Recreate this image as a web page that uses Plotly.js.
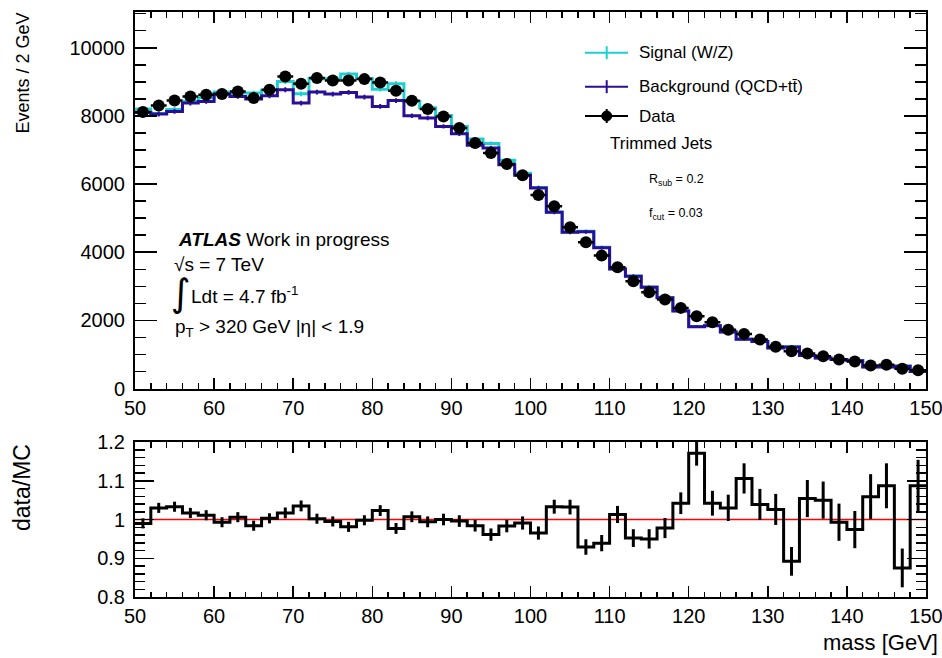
<!DOCTYPE html>
<html><head><meta charset="utf-8">
<script src="https://cdn.plot.ly/plotly-3.0.1.min.js"></script>
<style>html,body{margin:0;padding:0;background:#fff}#chart{width:942px;height:658px}</style>
</head><body><div id="chart"></div>
<script>
// bin centres (2 GeV bins from 50 to 150)
const binCentres = [51,53,55,57,59,61,63,65,67,69,71,73,75,77,79,81,83,85,87,89,
  91,93,95,97,99,101,103,105,107,109,111,113,115,117,119,121,123,125,127,129,
  131,133,135,137,139,141,143,145,147,149];
const binHalfWidth = 1;

const dataEvents = [8114,8308,8455,8572,8622,8642,8720,8525,8768,9160,
  8944,9110,9042,9042,9080,8983,8739,8446,8201,7986,
  7644,7205,6912,6589,6256,5680,5347,4731,4291,3900,
  3558,3147,2824,2610,2366,2121,1945,1725,1603,1437,
  1222,1095,1026,948,850,792,674,694,577,538];

// Signal (W/Z) stacked on background
const signalTotal = [8200,8070,8190,8430,8530,8700,8670,8670,8750,9010,
  8650,9100,9090,9230,9100,8785,8945,8420,8240,8010,
  7690,7320,7190,6700,6320,5900,5180,4595,4612,4142,
  3514,3302,2980,2667,2282,1822,1852,1667,1455,1386,
  1194,1222,971,897,854,821,637,638,657,501];

const background = [8100,8055,8133,8378,8426,8642,8572,8495,8592,8768,
  8378,8700,8642,8690,8553,8280,8450,8006,7937,7693,
  7478,7136,7057,6569,6256,5885,5171,4585,4600,4130,
  3505,3295,2970,2660,2275,1815,1845,1660,1448,1380,
  1188,1215,966,892,850,816,633,634,652,497];

const mcErr = [70,70,70,70,70,70,70,70,70,70,
  70,70,70,70,70,70,70,65,65,65,
  65,65,60,60,60,60,55,55,55,50,
  50,50,45,45,45,40,40,40,35,35,
  35,30,30,30,30,30,30,30,30,30];

const ratio = [0.990,1.030,1.033,1.017,1.011,0.993,1.006,0.984,1.003,1.017,
  1.035,1.002,0.995,0.981,0.998,1.023,0.977,1.007,0.994,1.000,
  0.996,0.984,0.961,0.983,0.991,0.965,1.033,1.032,0.929,0.939,
  1.013,0.952,0.950,0.978,1.042,1.171,1.042,1.030,1.106,1.039,
  1.026,0.892,1.054,1.050,0.993,0.974,1.059,1.087,0.875,1.087];

const ratioErr = [0.013,0.013,0.013,0.013,0.013,0.013,0.013,0.013,0.013,0.014,
  0.014,0.013,0.013,0.013,0.013,0.014,0.014,0.014,0.014,0.015,
  0.015,0.015,0.016,0.016,0.017,0.017,0.018,0.019,0.020,0.021,
  0.022,0.023,0.025,0.026,0.028,0.032,0.032,0.034,0.039,0.040,
  0.040,0.037,0.048,0.048,0.048,0.048,0.058,0.058,0.050,0.067];

const xTickVals = [50,60,70,80,90,100,110,120,130,140,150];

// ---- helpers ----
function stepX(c){ const e = c.map(v=>v-binHalfWidth); e.push(c[c.length-1]+binHalfWidth); return e; }
function stepY(v){ const y = v.slice(); y.push(v[v.length-1]); return y; }

const CYAN = '#1fcfd0', BLUE = '#2a0e96';
const FONT = 'Liberation Sans, Arial, Helvetica, sans-serif';

const PL = 135, PR = 926, PT = 12, PB = 597;
const px = x => (x-PL)/(PR-PL);
const py = y => (PB-y)/(PB-PT);

const traces = [
  {x: stepX(binCentres), y: stepY(signalTotal), type:'scatter', mode:'lines',
   line:{shape:'hv', color:CYAN, width:3}, xaxis:'x', yaxis:'y', hoverinfo:'skip'},
  {x: binCentres, y: signalTotal, type:'scatter', mode:'markers', marker:{size:1, color:CYAN, opacity:0},
   error_y:{type:'data', array:mcErr, color:CYAN, thickness:2, width:0}, xaxis:'x', yaxis:'y'},
  {x: stepX(binCentres), y: stepY(background), type:'scatter', mode:'lines',
   line:{shape:'hv', color:BLUE, width:3}, xaxis:'x', yaxis:'y', hoverinfo:'skip'},
  {x: binCentres, y: background, type:'scatter', mode:'markers', marker:{size:1, color:BLUE, opacity:0},
   error_y:{type:'data', array:mcErr, color:BLUE, thickness:2, width:0}, xaxis:'x', yaxis:'y'},
  {x: binCentres, y: dataEvents, type:'scatter', mode:'markers', marker:{size:12, color:'#000'},
   error_x:{type:'constant', value:binHalfWidth, color:'#000', thickness:2.5, width:0}, xaxis:'x', yaxis:'y'},
  {x: stepX(binCentres), y: stepY(ratio), type:'scatter', mode:'lines',
   line:{shape:'hv', color:'#000', width:3}, xaxis:'x2', yaxis:'y2'},
  {x: binCentres, y: ratio, type:'scatter', mode:'markers', marker:{size:1, color:'#000', opacity:0},
   error_y:{type:'data', array:ratioErr, color:'#000', thickness:3, width:0}, xaxis:'x2', yaxis:'y2'}
];

const axisCommon = {
  showline:true, linecolor:'#000', linewidth:2, mirror:'ticks', ticks:'inside',
  tickcolor:'#000', tickwidth:1.5, showgrid:false, zeroline:false,
  tickfont:{family:FONT, size:20, color:'#000'}
};

const yTop0 = (PB-388.5)/(PB-PT);
const yBot1 = (PB-442)/(PB-PT);

const layout = {
  width:942, height:658, paper_bgcolor:'#fff', plot_bgcolor:'#fff',
  margin:{l:PL, r:942-PR, t:PT, b:658-PB},
  showlegend:false,
  font:{family:FONT, color:'#000'},
  xaxis: Object.assign({}, axisCommon, {anchor:'y', domain:[0,1], range:[50,150], tickvals:xTickVals,
    ticklabeloverflow:'allow',
    ticklen:11, minor:{dtick:2, tick0:50, ticklen:5.5, ticks:'inside', tickcolor:'#000', tickwidth:1.5}}),
  yaxis: Object.assign({}, axisCommon, {anchor:'x', domain:[yTop0,1], range:[0,11050], dtick:2000, tick0:0,
    tickformat:'d', ticklen:22, ticklabelstandoff:4,
    minor:{dtick:500, ticklen:11, ticks:'inside', tickcolor:'#000', tickwidth:1.5}}),
  xaxis2: Object.assign({}, axisCommon, {anchor:'y2', domain:[0,1], range:[50,150], tickvals:xTickVals,
    ticklabeloverflow:'allow',
    ticklen:11, minor:{dtick:2, tick0:50, ticklen:5.5, ticks:'inside', tickcolor:'#000', tickwidth:1.5}}),
  yaxis2: Object.assign({}, axisCommon, {anchor:'x2', domain:[0,yBot1], range:[0.8,1.2], dtick:0.1, tick0:0.8,
    ticklen:19, ticklabelstandoff:4,
    minor:{dtick:0.02, ticklen:10, ticks:'inside', tickcolor:'#000', tickwidth:1.5}}),
  shapes: [
    {type:'line', xref:'x2', yref:'y2', x0:50, x1:150, y0:1, y1:1, line:{color:'#ff0000', width:1.5}, layer:'below'},
    // legend glyphs
    {type:'line', xref:'paper', yref:'paper', x0:px(585), x1:px(628), y0:py(52.7), y1:py(52.7), line:{color:CYAN, width:2}},
    {type:'line', xref:'paper', yref:'paper', x0:px(606.7), x1:px(606.7), y0:py(46.2), y1:py(59.2), line:{color:CYAN, width:2}},
    {type:'line', xref:'paper', yref:'paper', x0:px(585), x1:px(628), y0:py(86.7), y1:py(86.7), line:{color:BLUE, width:2}},
    {type:'line', xref:'paper', yref:'paper', x0:px(606.7), x1:px(606.7), y0:py(80.2), y1:py(93.2), line:{color:BLUE, width:2}},
    {type:'line', xref:'paper', yref:'paper', x0:px(585), x1:px(628), y0:py(116), y1:py(116), line:{color:'#000', width:2}},
    {type:'line', xref:'paper', yref:'paper', x0:px(606.7), x1:px(606.7), y0:py(109), y1:py(123), line:{color:'#000', width:2}},
    {type:'circle', xref:'paper', yref:'paper', x0:px(601.7), x1:px(611.7), y0:py(121), y1:py(111), fillcolor:'#000', line:{color:'#000', width:1}}
  ],
  annotations: [
    {text:'Events / 2 GeV', xref:'paper', yref:'paper', x:px(22), y:py(11), textangle:-90, showarrow:false,
     font:{size:18}, xanchor:'center', yanchor:'top'},
    {text:'data/MC', xref:'paper', yref:'paper', x:px(22), y:py(488), textangle:-90, showarrow:false,
     font:{size:23}, xanchor:'center', yanchor:'middle'},
    {text:'mass [GeV]', xref:'paper', yref:'paper', x:px(940), y:py(642), showarrow:false,
     font:{size:22}, xanchor:'right', yanchor:'middle'},
    {text:'Signal (W/Z)', xref:'paper', yref:'paper', x:px(637), y:py(52.7), showarrow:false, font:{size:17}, xanchor:'left', yanchor:'middle'},
    {text:'Background (QCD+tt\u0304)', xref:'paper', yref:'paper', x:px(637), y:py(86.7), showarrow:false, font:{size:17}, xanchor:'left', yanchor:'middle'},
    {text:'Data', xref:'paper', yref:'paper', x:px(637), y:py(116), showarrow:false, font:{size:17}, xanchor:'left', yanchor:'middle'},
    {text:'Trimmed Jets', xref:'paper', yref:'paper', x:px(608), y:py(144), showarrow:false, font:{size:17}, xanchor:'left', yanchor:'middle'},
    {text:'R<sub>sub</sub> = 0.2', xref:'paper', yref:'paper', x:px(647), y:py(180), showarrow:false, font:{size:12.5}, xanchor:'left', yanchor:'middle'},
    {text:'f<sub>cut</sub> = 0.03', xref:'paper', yref:'paper', x:px(647), y:py(214), showarrow:false, font:{size:12.5}, xanchor:'left', yanchor:'middle'},
    {text:'<b><i>ATLAS</i></b> Work in progress', xref:'paper', yref:'paper', x:px(176), y:py(240), showarrow:false, font:{size:19}, xanchor:'left', yanchor:'middle'},
    {text:'\u221As = 7 TeV', xref:'paper', yref:'paper', x:px(172), y:py(264), showarrow:false, font:{size:19}, xanchor:'left', yanchor:'middle'},
    {text:'\u222B', xref:'paper', yref:'paper', x:px(169), y:py(293), showarrow:false, font:{size:38, family:'DejaVu Sans'}, xanchor:'left', yanchor:'middle'},
    {text:'Ldt = 4.7 fb<sup>-1</sup>', xref:'paper', yref:'paper', x:px(189), y:py(295), showarrow:false, font:{size:19}, xanchor:'left', yanchor:'middle'},
    {text:'p<sub>T</sub> > 320 GeV |\u03B7| < 1.9', xref:'paper', yref:'paper', x:px(173), y:py(328), showarrow:false, font:{size:19}, xanchor:'left', yanchor:'middle'}
  ]
};

Plotly.newPlot('chart', traces, layout, {staticPlot:true, displayModeBar:false});
</script>
</body></html>
